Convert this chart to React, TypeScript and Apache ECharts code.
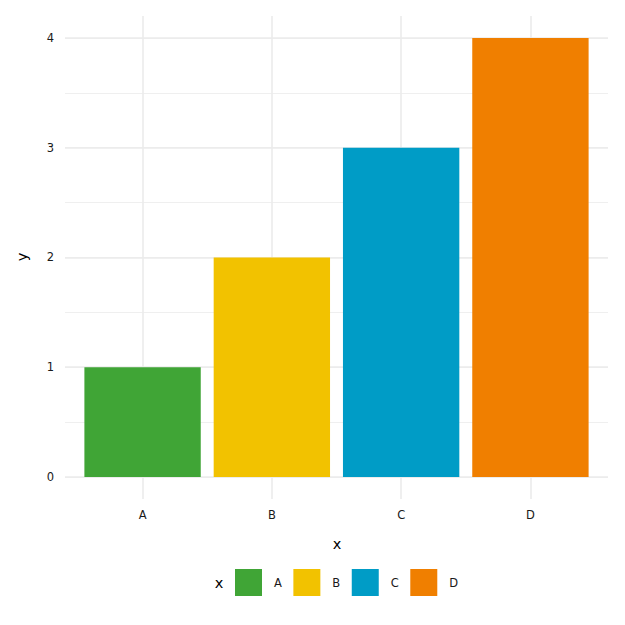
import React, { useEffect, useRef } from "react";
import * as echarts from "echarts";

const categories = ["A", "B", "C", "D"];
const values = [1, 2, 3, 4];
const colors = ["#40a536", "#f2c200", "#009cc6", "#f07f00"];
const legendTitle = "x";
const xTitle = "x";
const yTitle = "y";

const FONT = "DejaVu Sans";
const GRID_COLOR = "#ebebeb";

export default function App() {
  const ref = useRef<HTMLDivElement>(null);
  useEffect(() => {
    if (!ref.current) return;
    const chart = echarts.init(ref.current, null, { renderer: "svg" });
    const series = categories.map((c, i) => ({
      type: "custom",
      name: c,
      xAxisIndex: 1,
      yAxisIndex: 1,
      itemStyle: { color: colors[i] },
      encode: { x: 0, y: 1 },
      data: [[i + 1, values[i]]],
      renderItem: (params: any, api: any) => {
        const x = api.value(0);
        const y = api.value(1);
        const p0 = api.coord([x - 0.45, y]);
        const p1 = api.coord([x + 0.45, 0]);
        return {
          type: "rect",
          shape: { x: p0[0], y: p0[1], width: p1[0] - p0[0], height: p1[1] - p0[1] },
          style: { fill: api.visual("color") },
        };
      },
    }));
    chart.setOption({
      animation: false,
      backgroundColor: "#ffffff",
      textStyle: { fontFamily: FONT },
      grid: [
        { left: 65, right: 17, top: 16, bottom: 126 },
        { left: 65, right: 17, top: 16, bottom: 148 },
      ],
      xAxis: [
        {
          type: "value",
          gridIndex: 0,
          min: 0.4,
          max: 4.6,
          axisLine: { show: false },
          axisTick: { show: false },
          splitLine: { show: true, showMinLine: false, showMaxLine: false, lineStyle: { color: GRID_COLOR, width: 1.6 } },
          axisLabel: {
            showMinLabel: false,
            showMaxLabel: false,
            margin: 10,
            fontFamily: FONT,
            fontSize: 11.5,
            color: "#1a1a1a",
            formatter: (v: number) => (Number.isInteger(v) && v >= 1 && v <= categories.length ? categories[v - 1] : ""),
          },
        },
        {
          type: "value",
          gridIndex: 1,
          min: 0.4,
          max: 4.6,
          show: false,
          splitLine: { show: false },
        },
      ],
      yAxis: [
        {
          type: "value",
          gridIndex: 0,
          min: 0,
          max: 1,
          show: false,
          splitLine: { show: false },
        },
        {
          type: "value",
          gridIndex: 1,
          min: 0,
          max: 4.2,
          interval: 1,
          axisLine: { show: false },
          axisTick: { show: false },
          splitLine: { show: true, showMaxLine: false, lineStyle: { color: GRID_COLOR, width: 1.6 } },
          axisLabel: {
            showMaxLabel: false,
            margin: 11,
            fontFamily: FONT,
            fontSize: 11.5,
            color: "#1a1a1a",
            formatter: (v: number) => (Number.isInteger(v) ? String(v) : ""),
          },
          z: 1,
        },
        {
          type: "value",
          gridIndex: 1,
          min: 0,
          max: 4.2,
          interval: 0.5,
          axisLine: { show: false },
          axisTick: { show: false },
          axisLabel: { show: false },
          splitLine: { show: true, showMaxLine: false, lineStyle: { color: GRID_COLOR, width: 0.8 } },
          z: 0,
        },
      ],
      legend: {
        left: 230,
        top: 564,
        itemWidth: 27,
        itemHeight: 27,
        itemGap: 11.5,
        icon: "rect",
        selectedMode: false,
        data: categories,
        textStyle: { fontFamily: FONT, fontSize: 11.5, color: "#1a1a1a", padding: [0, 0, 0, 7] },
      },
      graphic: [
        {
          type: "text",
          x: 219,
          y: 583,
          style: { text: legendTitle, font: `14.5px '${FONT}'`, fill: "#000", textAlign: "center", textVerticalAlign: "middle" },
        },
        {
          type: "text",
          x: 337,
          y: 544,
          style: { text: xTitle, font: `14.5px '${FONT}'`, fill: "#000", textAlign: "center", textVerticalAlign: "middle" },
        },
        {
          type: "text",
          x: 22,
          y: 257,
          rotation: Math.PI / 2,
          style: { text: yTitle, font: `14.5px '${FONT}'`, fill: "#000", textAlign: "center", textVerticalAlign: "middle" },
        },
      ],
      series,
    });
    return () => chart.dispose();
  }, []);
  return <div ref={ref} style={{ position: "fixed", left: 0, top: 0, width: 625, height: 625 }} />;
}
